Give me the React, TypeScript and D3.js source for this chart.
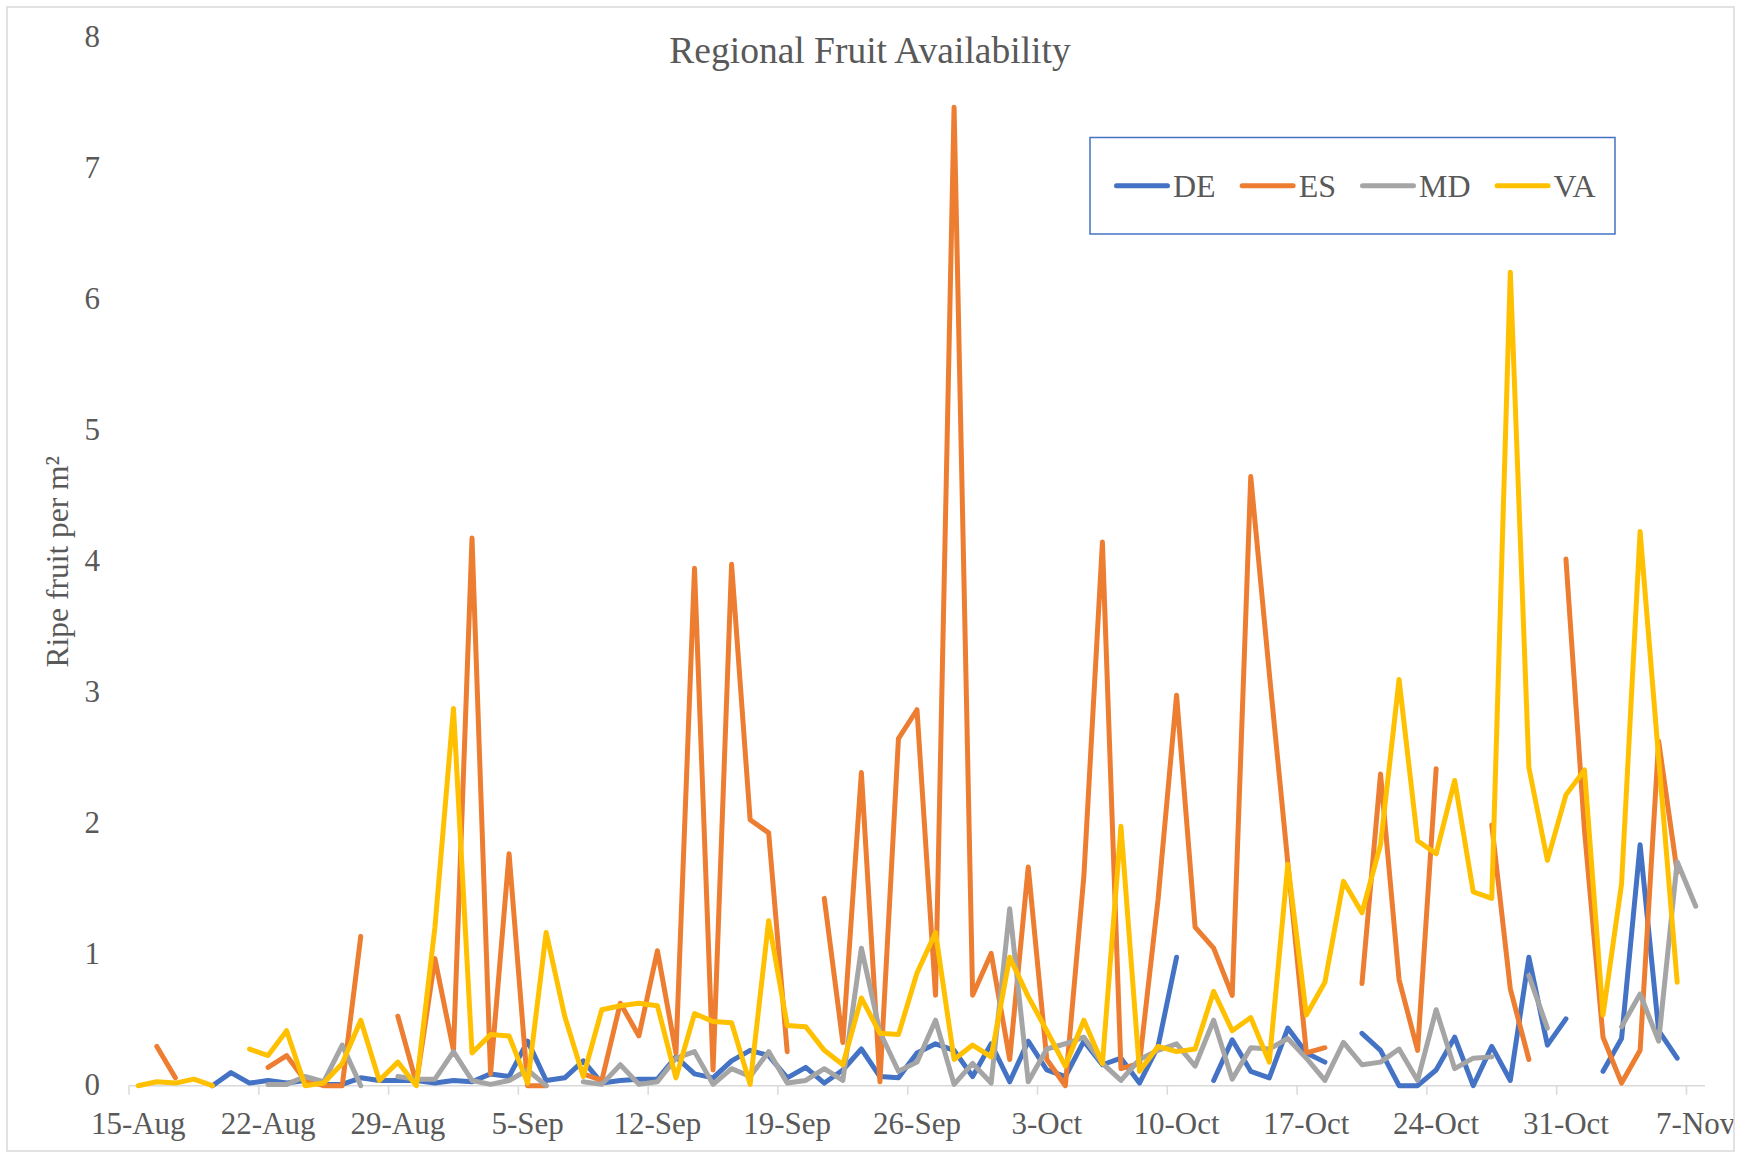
import React, { useRef, useEffect } from 'react';
import * as d3 from 'd3';

// one value per day, 15-Aug .. 7-Nov (85 days), null = no sample
const startDate = new Date(Date.UTC(2019, 7, 15));
const dayCount = 85;

const seriesNames = ['DE', 'ES', 'MD', 'VA'];
const seriesColors = ['#4472C4', '#ED7D31', '#A5A5A5', '#FFC000'];

const tickLabels = ['15-Aug', '22-Aug', '29-Aug', '5-Sep', '12-Sep', '19-Sep', '26-Sep', '3-Oct', '10-Oct', '17-Oct', '24-Oct', '31-Oct', '7-Nov'];
const yTicks = [0, 1, 2, 3, 4, 5, 6, 7, 8];

const DE = [
  null, null, null, null, 0.0, 0.1, 0.02,
  0.04, 0.02, 0.04, 0.01, 0.01, 0.06, 0.04,
  0.04, 0.04, 0.02, 0.04, 0.03, 0.09, 0.07,
  0.34, 0.04, 0.06, 0.19, 0.02, 0.04, 0.05,
  0.05, 0.22, 0.09, 0.06, 0.19, 0.27, 0.23,
  0.06, 0.14, 0.02, 0.12, 0.28, 0.07, 0.06,
  0.25, 0.32, 0.27, 0.07, 0.32, 0.03, 0.34,
  0.12, 0.07, 0.34, 0.16, 0.21, 0.02, 0.3,
  0.98, null, 0.04, 0.35, 0.11, 0.06, 0.44,
  0.25, 0.18, null, 0.4, 0.27, 0.0, 0.0,
  0.12, 0.37, 0.0, 0.3, 0.04, 0.98, 0.31,
  0.51, null, 0.11, 0.36, 1.84, 0.42, 0.21,
  null,
];

const ES = [
  null, 0.3, 0.06, null, null, null, null,
  0.14, 0.23, 0.04, 0.0, 0.0, 1.14, null,
  0.53, 0.02, 0.97, 0.27, 4.18, 0.09, 1.77,
  0.0, 0.0, null, 0.09, 0.04, 0.63, 0.38,
  1.03, 0.25, 3.95, 0.12, 3.98, 2.03, 1.93,
  0.26, null, 1.43, 0.33, 2.39, 0.03, 2.65,
  2.87, 0.69, 7.47, 0.69, 1.01, 0.2, 1.67,
  0.2, 0.0, 1.6, 4.15, 0.13, 0.17, 1.42,
  2.98, 1.21, 1.05, 0.69, 4.65, 3.15, 1.7,
  0.25, 0.29, null, 0.78, 2.38, 0.81, 0.27,
  2.42, null, null, 1.99, 0.74, 0.2, null,
  4.02, 1.95, 0.37, 0.02, 0.27, 2.63, 1.63,
  null,
];

const MD = [
  null, null, null, null, null, null, null,
  0.01, 0.01, 0.07, 0.03, 0.31, 0.0, null,
  0.07, 0.05, 0.05, 0.26, 0.04, 0.01, 0.04,
  0.12, 0.0, null, 0.03, 0.01, 0.16, 0.01,
  0.03, 0.21, 0.26, 0.01, 0.13, 0.07, 0.26,
  0.02, 0.04, 0.13, 0.04, 1.05, 0.41, 0.11,
  0.18, 0.5, 0.01, 0.17, 0.02, 1.35, 0.03,
  0.28, 0.32, 0.37, 0.17, 0.04, 0.2, 0.27,
  0.32, 0.15, 0.5, 0.05, 0.29, 0.28, 0.36,
  0.21, 0.04, 0.33, 0.16, 0.18, 0.28, 0.04,
  0.58, 0.13, 0.21, 0.22, null, 0.84, 0.44,
  null, null, null, 0.45, 0.7, 0.34, 1.71,
  1.37,
];

const VA = [
  0.0, 0.03, 0.02, 0.05, 0.0, null, 0.28,
  0.23, 0.42, 0.0, 0.02, 0.17, 0.5, 0.04,
  0.18, 0.0, 1.21, 2.88, 0.25, 0.39, 0.38,
  0.02, 1.17, 0.53, 0.07, 0.58, 0.61, 0.63,
  0.61, 0.06, 0.55, 0.49, 0.48, 0.01, 1.26,
  0.46, 0.45, 0.27, 0.16, 0.67, 0.4, 0.39,
  0.86, 1.17, 0.2, 0.31, 0.22, 0.98, 0.68,
  0.42, 0.15, 0.5, 0.17, 1.98, 0.11, 0.3,
  0.26, 0.28, 0.72, 0.42, 0.52, 0.18, 1.69,
  0.54, 0.79, 1.56, 1.32, 1.84, 3.1, 1.87,
  1.77, 2.33, 1.48, 1.43, 6.21, 2.43, 1.72,
  2.22, 2.41, 0.54, 1.54, 4.23, 2.5, 0.79,
  null,
];

const seriesValues = [DE, ES, MD, VA];

const WIDTH = 1752;
const HEIGHT = 1154;
const FONT = '"Liberation Serif", "Times New Roman", serif';
const TEXT_COLOR = '#595959';

const App: React.FC = () => {
  const svgRef = useRef<SVGSVGElement>(null);

  useEffect(() => {
    if (!svgRef.current) return;
    const svg = d3.select(svgRef.current);
    svg.selectAll('*').remove();

    const plot = { left: 129, right: 1705, top: 37.7, bottom: 1085.7 };

    const days = d3.utcDay.range(startDate, d3.utcDay.offset(startDate, dayCount));
    const xScale = d3
      .scaleUtc()
      .domain([startDate, d3.utcDay.offset(startDate, dayCount)])
      .range([plot.left, plot.right]);
    const xMid = (i: number) => xScale(d3.utcHour.offset(days[i], 12));

    const yScale = d3.scaleLinear().domain([0, 8]).range([plot.bottom, plot.top]);

    // clip everything to the chart frame, the last date label runs past it
    svg
      .append('defs')
      .append('clipPath')
      .attr('id', 'frame')
      .append('rect')
      .attr('x', 7)
      .attr('y', 7)
      .attr('width', 1727)
      .attr('height', 1144);

    const root = svg.append('g').attr('clip-path', 'url(#frame)');

    root
      .append('rect')
      .attr('x', 0)
      .attr('y', 0)
      .attr('width', WIDTH)
      .attr('height', HEIGHT)
      .attr('fill', '#fff');

    // title
    root
      .append('text')
      .attr('x', 870)
      .attr('y', 63)
      .attr('text-anchor', 'middle')
      .attr('font-family', FONT)
      .attr('font-size', 37.5)
      .attr('fill', TEXT_COLOR)
      .text('Regional Fruit Availability');

    // y axis labels (no axis line, no grid)
    root
      .append('g')
      .selectAll('text')
      .data(yTicks)
      .enter()
      .append('text')
      .attr('x', 100)
      .attr('y', (d) => yScale(d))
      .attr('dy', '0.3em')
      .attr('text-anchor', 'end')
      .attr('font-family', FONT)
      .attr('font-size', 31)
      .attr('fill', TEXT_COLOR)
      .text((d) => d);

    // y axis title
    root
      .append('text')
      .attr('transform', `translate(68,${(plot.top + plot.bottom) / 2}) rotate(-90)`)
      .attr('text-anchor', 'middle')
      .attr('font-family', FONT)
      .attr('font-size', 31.5)
      .attr('fill', TEXT_COLOR)
      .text('Ripe fruit per m²');

    // x axis
    const xAxis = root.append('g');
    xAxis
      .append('line')
      .attr('x1', plot.left)
      .attr('x2', plot.right)
      .attr('y1', plot.bottom)
      .attr('y2', plot.bottom)
      .attr('stroke', '#d9d9d9')
      .attr('stroke-width', 1.5);

    const tickIdx = tickLabels.map((_, k) => k * 7);
    xAxis
      .selectAll('.tick')
      .data(tickIdx)
      .enter()
      .append('line')
      .attr('class', 'tick')
      .attr('x1', (i) => xScale(days[i]))
      .attr('x2', (i) => xScale(days[i]))
      .attr('y1', plot.bottom)
      .attr('y2', plot.bottom + 9)
      .attr('stroke', '#d9d9d9')
      .attr('stroke-width', 1.5);

    xAxis
      .selectAll('.tick-label')
      .data(tickIdx)
      .enter()
      .append('text')
      .attr('class', 'tick-label')
      .attr('x', (i) => xMid(i))
      .attr('y', 1134)
      .attr('text-anchor', 'middle')
      .attr('font-family', FONT)
      .attr('font-size', 31)
      .attr('fill', TEXT_COLOR)
      .text((_, k) => tickLabels[k]);

    // series lines, gaps left empty
    const line = d3
      .line<number | null>()
      .defined((d) => d != null)
      .x((_, i) => xMid(i))
      .y((d) => yScale(d as number));

    seriesValues.forEach((values, s) => {
      root
        .append('path')
        .datum(values)
        .attr('fill', 'none')
        .attr('stroke', seriesColors[s])
        .attr('stroke-width', 5)
        .attr('stroke-linejoin', 'round')
        .attr('stroke-linecap', 'round')
        .attr('d', line);
    });

    // legend
    root
      .append('rect')
      .attr('x', 1090)
      .attr('y', 137.5)
      .attr('width', 525)
      .attr('height', 96.5)
      .attr('fill', '#fff')
      .attr('stroke', '#4472C4')
      .attr('stroke-width', 1.5);

    let lx = 1114;
    const ly = 185.7;
    seriesNames.forEach((name, s) => {
      root
        .append('line')
        .attr('x1', lx + 2.5)
        .attr('x2', lx + 53.5)
        .attr('y1', ly)
        .attr('y2', ly)
        .attr('stroke', seriesColors[s])
        .attr('stroke-width', 5)
        .attr('stroke-linecap', 'round');
      const t = root
        .append('text')
        .attr('x', lx + 59)
        .attr('y', 196.7)
        .attr('font-family', FONT)
        .attr('font-size', 32)
        .attr('fill', TEXT_COLOR)
        .text(name);
      const w = (t.node() as SVGTextElement).getComputedTextLength();
      lx += 59 + w + 24;
    });

    // chart frame
    svg
      .append('rect')
      .attr('x', 7)
      .attr('y', 7)
      .attr('width', 1727)
      .attr('height', 1144)
      .attr('fill', 'none')
      .attr('stroke', '#d9d9d9')
      .attr('stroke-width', 1.5);
  }, []);

  return (
    <div style={{ position: 'absolute', left: 0, top: 0 }}>
      <svg ref={svgRef} width={WIDTH} height={HEIGHT} style={{ display: 'block' }} />
    </div>
  );
};

export default App;
